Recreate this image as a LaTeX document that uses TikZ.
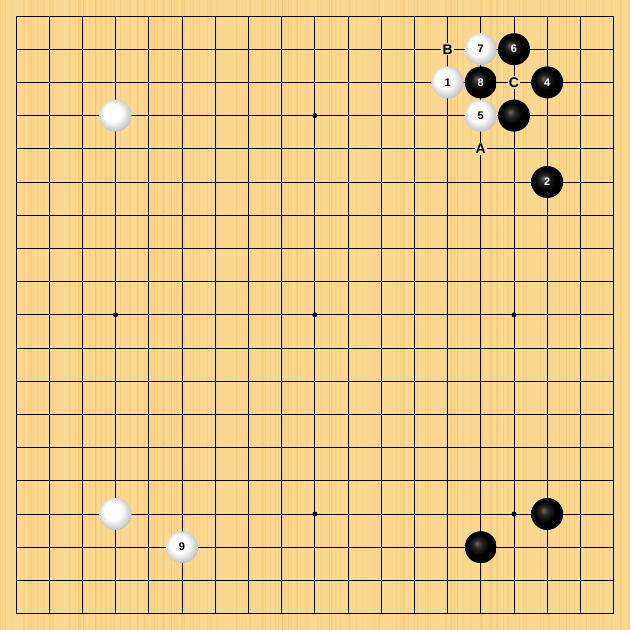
\documentclass[tikz,border=0pt]{standalone}
\usepackage{fontspec}
\setmainfont{Liberation Sans}
\definecolor{board}{HTML}{F9D990}
\definecolor{grain}{HTML}{EFC26A}
\pgfdeclareradialshading{wball}{\pgfpoint{-7bp}{7bp}}{color(0bp)=(white); color(14bp)=(white); color(25bp)=(black!20); color(33bp)=(black!42); color(40bp)=(black!42)}
\pgfdeclareradialshading{bball}{\pgfpoint{-6bp}{6bp}}{color(0bp)=(black!60); color(7bp)=(black!85); color(16bp)=(black); color(26bp)=(black); color(33bp)=(black!60); color(40bp)=(black!60)}
\begin{document}
\begin{tikzpicture}[x=1pt,y=-1pt,
  wstone/.style={circle,inner sep=0pt,minimum size=32pt,shading=wball,font=\bfseries\fontsize{11}{11}\selectfont,text=black},
  bstone/.style={circle,inner sep=0pt,minimum size=32pt,shading=bball,font=\bfseries\fontsize{11}{11}\selectfont,text=white},
  lbl/.style={fill=board,inner sep=1.2pt,font=\bfseries\fontsize{14}{14}\selectfont,text=black},
  star/.style={circle,fill=black,inner sep=0pt,minimum size=5pt}]
\newcommand\gp[2]{({16+33.2*#1},{16+33.2*#2})}
\fill[board] (0,0) rectangle (630,630);
\useasboundingbox (0,0) rectangle (630,630);
% wood grain
\pgfmathsetseed{7}
\foreach \k in {0,...,200}{
  \pgfmathsetmacro\xx{rnd*630}
  \pgfmathsetmacro\ww{0.4+rnd*1.0}
  \pgfmathsetmacro\oo{0.12+rnd*0.3}
  \draw[grain,line width=\ww pt,opacity=\oo] (\xx,0) -- (\xx,630);
}
% grid
\foreach \i in {0,...,18}{
  \draw[line width=0.9pt] ({16+33.2*\i},16) -- ({16+33.2*\i},613.6);
  \draw[line width=0.9pt] (16,{16+33.2*\i}) -- (613.6,{16+33.2*\i});
}
% star points
\foreach \c in {3,9,15}{\foreach \r in {3,9,15}{
  \node[star] at \gp{\c}{\r} {};
}}
% stones
\node[wstone] (wa) at \gp{3}{3} {};
\node[wstone] (wb) at \gp{3}{15} {};
\node[wstone] (w9) at \gp{5}{16} {9};
\node[bstone] (ba) at \gp{14}{16} {};
\node[bstone] (bb) at \gp{16}{15} {};
\node[wstone] (w7) at \gp{14}{1} {7};
\node[bstone] (b6) at \gp{15}{1} {6};
\node[wstone] (w1) at \gp{13}{2} {1};
\node[bstone] (b8) at \gp{14}{2} {8};
\node[bstone] (b4) at \gp{16}{2} {4};
\node[wstone] (w5) at \gp{14}{3} {5};
\node[bstone] (bc) at \gp{15}{3} {};
\node[bstone] (b2) at \gp{16}{5} {2};
% labels
\node[lbl] (lA) at \gp{14}{4} {A};
\node[lbl] (lB) at \gp{13}{1} {B};
\node[lbl] (lC) at \gp{15}{2} {C};
\end{tikzpicture}
\end{document}
